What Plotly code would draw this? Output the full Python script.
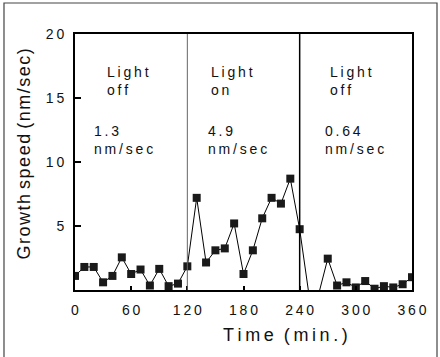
import plotly.graph_objects as go

# ---- data ----
time_min = [0, 10, 20, 30, 40, 50, 60, 70, 80, 90, 100, 110, 120,
            130, 140, 150, 160, 170, 180, 190, 200, 210, 220, 230, 240,
            250, 260, 270, 280, 290, 300, 310, 320, 330, 340, 350, 360]
growth_speed = [1.1, 1.8, 1.8, 0.6, 1.1, 2.55, 1.25, 1.6, 0.35, 1.65, 0.3, 0.5, 1.85,
                7.2, 2.15, 3.1, 3.25, 5.2, 1.25, 3.1, 5.6, 7.2, 6.75, 8.7, 4.75,
                -0.4, -0.4, 2.45, 0.35, 0.6, 0.2, 0.7, 0.1, 0.3, 0.2, 0.45, 1.0]

x_tick_vals = [0, 60, 120, 180, 240, 300, 360]
x_tick_text = ["0", "60", "120", "180", "240", "300", "360"]
y_tick_vals = [5, 10, 15, 20]
y_tick_text = ["5", "10", "15", "20"]

switch_times = [120, 240]
phase_labels = ["Light<br>off", "Light<br>on", "Light<br>off"]
phase_label_x = [32, 143, 270]
rate_labels = ["1.3<br>nm/sec", "4.9<br>nm/sec", "0.64<br>nm/sec"]
rate_label_x = [18, 140, 265]

TS = "\u2009"  # thin space for letter spacing
HS = "\u200a"  # hair space
NB = "\u00a0"  # non-breaking space


def spaced(s, sep=TS, gap=NB):
    return gap.join(sep.join(list(w)) for w in s.split(" "))


def spaced_html(s):
    return "<br>".join(TS.join(list(part)) for part in s.split("<br>"))


FONT = "Liberation Sans, Arial, sans-serif"

fig = go.Figure()
fig.add_trace(go.Scatter(
    x=time_min, y=growth_speed, mode="lines+markers",
    line=dict(color="black", width=1),
    marker=dict(symbol="square", size=8, color="#1a1a1a", line=dict(width=0)),
    showlegend=False,
))

shapes = []
for i, t in enumerate(switch_times):
    shapes.append(dict(type="line", xref="x", yref="y", x0=t, x1=t, y0=0, y1=20,
                       line=dict(color="#666666" if i == 0 else "black",
                                 width=1 if i == 0 else 1.5)))
# outer frame of the figure (left, top, right)
shapes.append(dict(type="path", xref="paper", yref="paper",
                   path="M -0.2107 -0.27 L -0.2107 1.1211 L 1.0742 1.1211 L 1.0742 -0.27",
                   line=dict(color="#444444", width=1.2)))

annotations = []
for txt, xp in zip(phase_labels, phase_label_x):
    annotations.append(dict(x=xp, y=16.3, xref="x", yref="y", text=spaced_html(txt),
                            showarrow=False, xanchor="left", yanchor="middle", align="left",
                            font=dict(family=FONT, size=14, color="#111111")))
for txt, xp in zip(rate_labels, rate_label_x):
    annotations.append(dict(x=xp, y=11.7, xref="x", yref="y", text=spaced_html(txt),
                            showarrow=False, xanchor="left", yanchor="middle", align="left",
                            font=dict(family=FONT, size=14, color="#111111")))
# axis titles
annotations.append(dict(x=0.625, y=-0.175, xref="paper", yref="paper",
                        text=spaced("Time (min.)", gap=NB + NB),
                        showarrow=False, xanchor="center", yanchor="middle",
                        font=dict(family=FONT, size=18, color="#111111")))
annotations.append(dict(x=-0.151, y=0.53, xref="paper", yref="paper",
                        text=spaced("Growth speed (nm/sec)", HS),
                        textangle=-90, showarrow=False, xanchor="center", yanchor="middle",
                        font=dict(family=FONT, size=18, color="#111111")))

fig.update_layout(
    width=440, height=357,
    margin=dict(l=75, r=28, t=34, b=67),
    paper_bgcolor="white", plot_bgcolor="white",
    shapes=shapes, annotations=annotations,
    font=dict(family=FONT, color="#111111"),
)
fig.update_xaxes(
    range=[0, 360], tickvals=x_tick_vals, ticktext=[spaced(t) for t in x_tick_text],
    showgrid=False, zeroline=False, showline=True, linecolor="black", linewidth=2,
    mirror=True, ticks="inside", ticklen=4, tickwidth=2, tickcolor="black",
    tickfont=dict(family=FONT, size=14, color="#111111"), ticklabelstandoff=6,
)
fig.update_yaxes(
    range=[0, 20], tickvals=y_tick_vals, ticktext=[spaced(t) for t in y_tick_text],
    showgrid=False, zeroline=False, showline=True, linecolor="black", linewidth=2,
    mirror=True, ticks="inside", ticklen=6, tickwidth=2, tickcolor="black",
    tickfont=dict(family=FONT, size=14, color="#111111"), ticklabelstandoff=6,
)

fig.write_html("out.html")
